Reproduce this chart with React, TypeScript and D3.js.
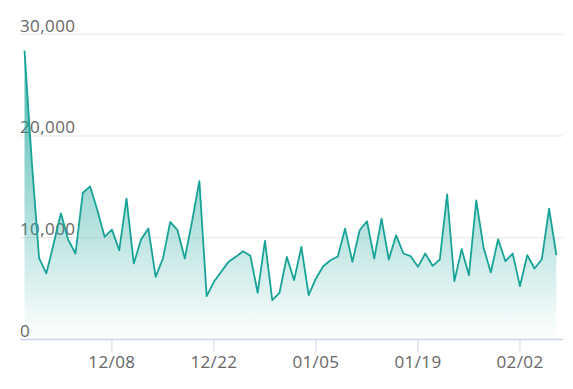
import React from "react";
import * as d3 from "d3";

const startDate = new Date(2018, 10, 26);
const endDate = new Date(2019, 1, 7);
const values: number[] = [
  28400, 17500, 8000, 6500, 9400, 12400, 9800, 8450, 14400, 15050,
  12700, 10080, 10800, 8770, 13840, 7470, 9820, 10900, 6160, 7960,
  11550, 10740, 7960, 11620, 15570, 4260, 5670, 6650, 7630, 8120,
  8680, 8220, 4590, 9690, 3870, 4590, 8120, 5830, 9100, 4360,
  6000, 7200, 7790, 8150, 10900, 7630, 10740, 11620, 7960, 11880,
  7860, 10250, 8450, 8190, 7140, 8450, 7240, 7860, 14260, 5740,
  8870, 6320, 13680, 9040, 6590, 9850, 7700, 8450, 5250, 8280,
  6980, 7890, 12860, 8280,
];
const yTicks: number[] = [0, 10000, 20000, 30000];
const xTickDates: Date[] = [
  new Date(2018, 11, 8),
  new Date(2018, 11, 22),
  new Date(2019, 0, 5),
  new Date(2019, 0, 19),
  new Date(2019, 1, 2),
];

const W = 573;
const H = 389;
const LEFT = 20;
const RIGHT = 563;
const TOP = 34.2;
const BOTTOM = 339.5;

export default function App() {
  const dates = d3.timeDay.range(startDate, d3.timeDay.offset(endDate, 1));
  const data = values.map((v, i) => ({ d: dates[i], v }));
  const x = d3.scaleTime().domain([startDate, endDate]).range([24.5, 556.4]);
  const y = d3.scaleLinear().domain([0, 30000]).range([BOTTOM, TOP]);
  const line = d3.line<{ d: Date; v: number }>().x((p) => x(p.d)).y((p) => y(p.v));
  const area = d3
    .area<{ d: Date; v: number }>()
    .x((p) => x(p.d))
    .y0(BOTTOM)
    .y1((p) => y(p.v));
  const fmt = d3.format(",");
  const tf = d3.timeFormat("%m/%d");
  const color = "#17a398";
  const font = "'Open Sans', sans-serif";
  const dataTop = y(d3.max(values) as number);
  return (
    <svg
      width={W}
      height={H}
      style={{ position: "absolute", left: 0, top: 0, background: "#fff" }}
    >
      <defs>
        <linearGradient id="fillGrad" x1="0" y1={dataTop} x2="0" y2={BOTTOM} gradientUnits="userSpaceOnUse">
          <stop offset="0" stopColor={color} stopOpacity={0.8} />
          <stop offset="1" stopColor={color} stopOpacity={0} />
        </linearGradient>
      </defs>
      {yTicks.map((t) => (
        <g key={t}>
          {t !== 0 && (
            <line x1={LEFT} x2={RIGHT} y1={y(t)} y2={y(t)} stroke="#e6e6e6" strokeWidth={1} />
          )}
          <text
            x={LEFT}
            y={y(t) - 2.5}
            fill="#666"
            fontSize={17}
            fontFamily={font}
            letterSpacing={0.4}
          >
            {fmt(t)}
          </text>
        </g>
      ))}
      <path d={area(data) || ""} fill="url(#fillGrad)" />
      <path d={line(data) || ""} fill="none" stroke={color} strokeWidth={1.8} strokeLinejoin="round" />
      <line x1={LEFT} x2={RIGHT} y1={BOTTOM} y2={BOTTOM} stroke="#ccd6eb" strokeWidth={1.5} />
      {xTickDates.map((d) => (
        <g key={d.getTime()}>
          <line x1={x(d)} x2={x(d)} y1={BOTTOM} y2={BOTTOM + 12} stroke="#ccd6eb" strokeWidth={1} />
          <text
            x={x(d)}
            y={368}
            textAnchor="middle"
            fill="#666"
            fontSize={17}
            fontFamily={font}
            letterSpacing={0.4}
          >
            {tf(d)}
          </text>
        </g>
      ))}
    </svg>
  );
}
